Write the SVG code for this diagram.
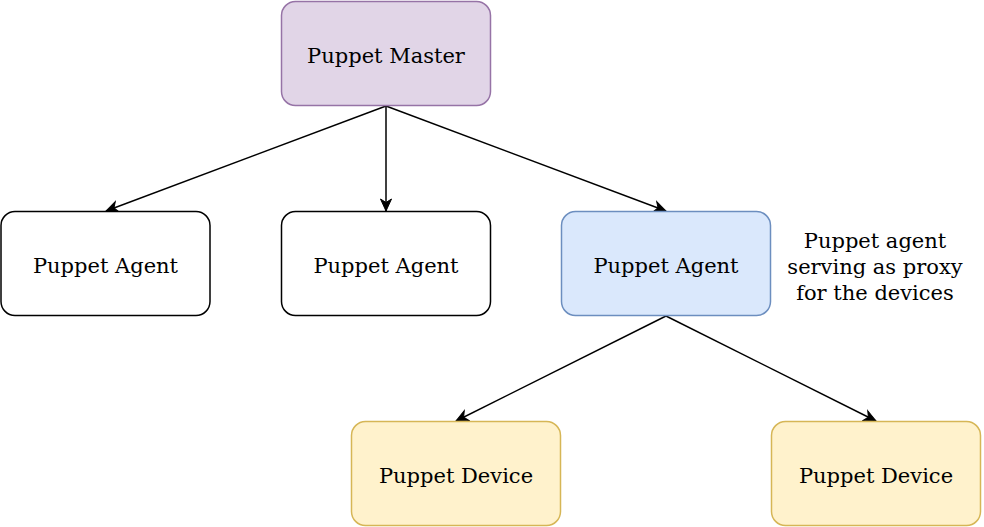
<svg xmlns="http://www.w3.org/2000/svg" width="984" height="527" viewBox="0 0 984 527">
<defs>
<style>
.box{stroke-width:1.5}
.plain{fill:#ffffff;stroke:#000000}
.purple{fill:#e1d5e7;stroke:#9673a6}
.blue{fill:#dae8fc;stroke:#6c8ebf}
.yellow{fill:#fff2cc;stroke:#d6b656}
text{font-family:"DejaVu Serif",serif;font-size:21px;fill:#000;text-anchor:middle}
.edge{stroke:#000;stroke-width:1.5;fill:none;marker-end:url(#arr)}
</style>
<marker id="arr" markerUnits="userSpaceOnUse" markerWidth="15" markerHeight="13" refX="13" refY="6.5" orient="auto" viewBox="0 0 15 13">
<path d="M1,1 L13,6.5 L1,12 L4.5,6.5 Z" fill="#000" stroke="#000" stroke-width="1"/>
</marker>
</defs>
<g id="connectors">
<line class="edge" x1="386" y1="106" x2="106" y2="211"/>
<line class="edge" x1="386" y1="106" x2="386" y2="211"/>
<line class="edge" x1="386" y1="106" x2="666" y2="211"/>
<line class="edge" x1="666" y1="316" x2="456" y2="421"/>
<line class="edge" x1="666" y1="316" x2="876" y2="421"/>
</g>
<g id="master">
<rect class="box purple" x="281.5" y="1.5" width="209" height="104" rx="14"/>
<text x="386" y="63">Puppet Master</text>
</g>
<g id="agent1">
<rect class="box plain" x="1" y="211.5" width="209" height="104" rx="14"/>
<text x="105.5" y="273">Puppet Agent</text>
</g>
<g id="agent2">
<rect class="box plain" x="281.5" y="211.5" width="209" height="104" rx="14"/>
<text x="386" y="273">Puppet Agent</text>
</g>
<g id="agent3">
<rect class="box blue" x="561.5" y="211.5" width="209" height="104" rx="14"/>
<text x="666" y="273">Puppet Agent</text>
</g>
<g id="device1">
<rect class="box yellow" x="351.5" y="421.5" width="209" height="104" rx="14"/>
<text x="456" y="483">Puppet Device</text>
</g>
<g id="device2">
<rect class="box yellow" x="771.5" y="421.5" width="209" height="104" rx="14"/>
<text x="876" y="483">Puppet Device</text>
</g>
<g id="proxy-label">
<text x="875" y="248">Puppet agent</text>
<text x="875" y="274">serving as proxy</text>
<text x="875" y="300">for the devices</text>
</g>
</svg>
